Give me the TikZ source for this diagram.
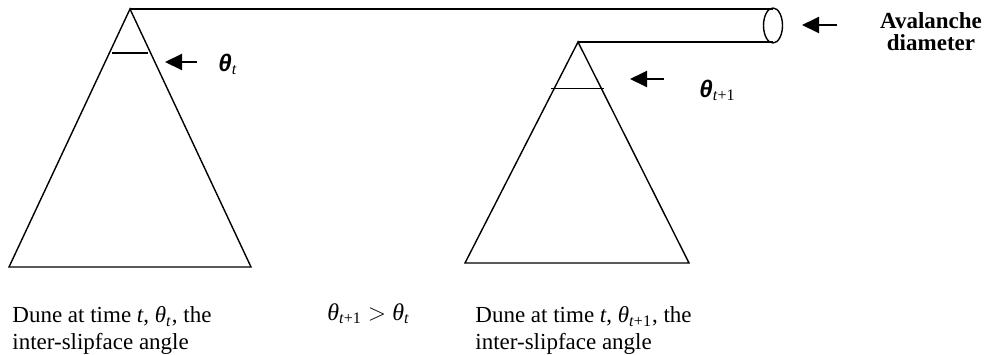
\documentclass[tikz,border=0pt]{standalone}
\usepackage{fontspec}
\setmainfont{Liberation Serif}
\newfontfamily\anglefont{Liberation Sans}
\usetikzlibrary{arrows.meta,calc}
% bold italic theta used for the slip face angle labels
\newcommand{\slipangle}{{\anglefont\bfseries\itshape θ}}
\begin{document}
\begin{tikzpicture}[x=0.5pt, y=-0.5pt,
    dune/.style={line width=0.7pt, line join=miter},
    pointer/.style={-{Triangle[length=8.5pt,width=8pt]}, line width=1pt},
    caption/.style={align=left, anchor=north west, inner sep=0pt,
      font=\fontsize{11.5}{13.5}\selectfont},
    anglelabel/.style={anchor=base west, inner sep=0pt, font=\fontsize{12}{14}\selectfont}]
  \useasboundingbox (0,0) rectangle (988,354);
  % Corners of the two dunes (pixel units, y pointing down)
  \coordinate (apexA) at (130,9);
  \coordinate (leftA) at (9,267);
  \coordinate (rightA) at (251,267);
  \coordinate (apexB) at (578,42);
  \coordinate (leftB) at (465,263);
  \coordinate (rightB) at (689,263);
  \coordinate (tubeTop) at (773,9);
  \coordinate (tubeBot) at (773,42);
  % Dune at time t
  \draw[dune] (apexA) -- (leftA) -- (rightA) -- cycle;
  \draw[dune] ($(apexA)!0.17!(leftA)+(3,0)$) -- ($(apexA)!0.17!(rightA)+(-3,0)$);
  % Dune at time t+1
  \draw[dune] (apexB) -- (leftB) -- (rightB) -- cycle;
  \draw[dune] ($(apexB)!0.21!(leftB)+(-3,0)$) -- ($(apexB)!0.21!(rightB)+(3,0)$);
  % Avalanche tube between the crests
  \draw[dune] (apexA) -- (tubeTop);
  \draw[dune] (apexB) -- (tubeBot);
  \draw[dune] (773,25.5) ellipse [x radius=9.5, y radius=17.5];
  % Labels
  \node[anglelabel] (thetaA) at (218,71) {\slipangle\textsubscript{\textit{t}}};
  \node[anglelabel] (thetaB) at (699,97) {\slipangle\textsubscript{\textit{t}+1}};
  \node[align=center, anchor=north, inner sep=0pt,
    font=\fontsize{11.5}{11}\selectfont\bfseries] (avalanche) at (931,12) {Avalanche\\diameter};
  \node[caption] (duneA) at (12,306)
    {Dune at time \textit{t}, \textit{θ}\textsubscript{\textit{t}}, the\\inter-slipface angle};
  \node[caption] (duneB) at (475,306)
    {Dune at time \textit{t}, \textit{θ}\textsubscript{\textit{t}+1}, the\\inter-slipface angle};
  \node[anglelabel] (compare) at (327,320)
    {\textit{θ}\textsubscript{\textit{t}+1} $>$ \textit{θ}\textsubscript{\textit{t}}};
  % Pointers
  \coordinate (tipA) at (165,62);
  \coordinate (tailA) at (197,62);
  \coordinate (tipB) at (630,79);
  \coordinate (tailB) at (664,79);
  \coordinate (tipC) at (802,25);
  \coordinate (tailC) at (837,25);
  \draw[pointer] (tailA) -- (tipA);
  \draw[pointer] (tailB) -- (tipB);
  \draw[pointer] (tailC) -- (tipC);
\end{tikzpicture}
\end{document}
